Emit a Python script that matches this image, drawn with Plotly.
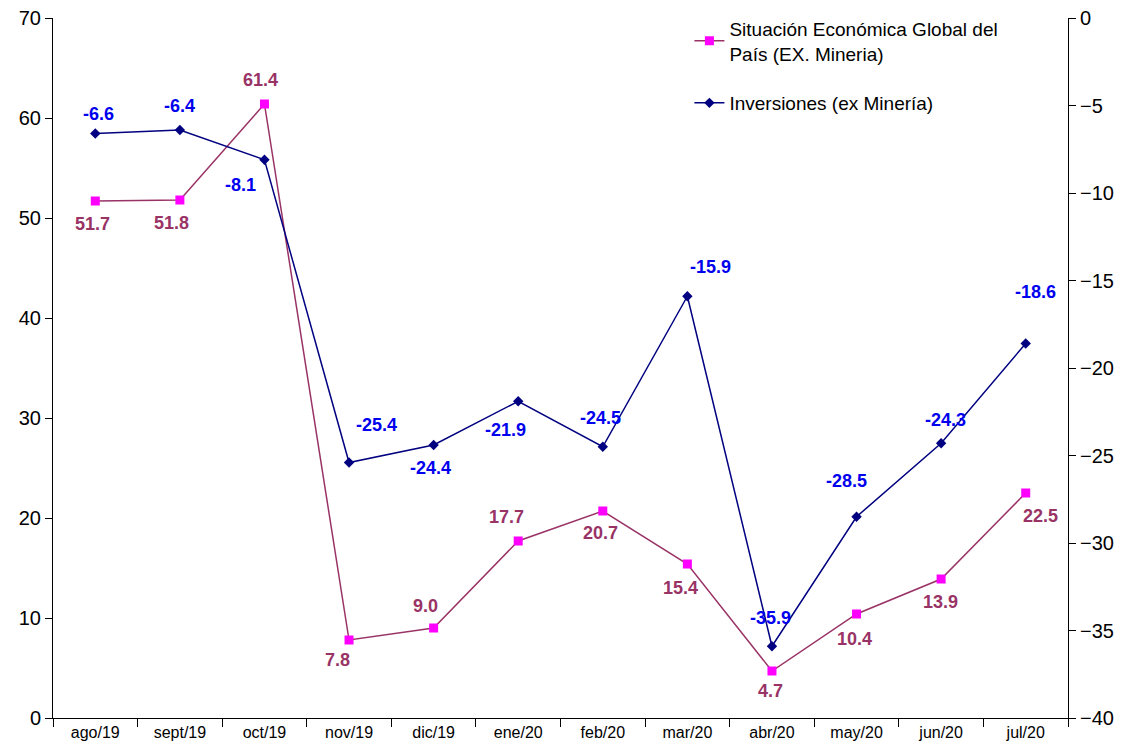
import plotly.graph_objects as go

categories = ["ago/19", "sept/19", "oct/19", "nov/19", "dic/19", "ene/20",
              "feb/20", "mar/20", "abr/20", "may/20", "jun/20", "jul/20"]
situacion = [51.7, 51.8, 61.4, 7.8, 9.0, 17.7, 20.7, 15.4, 4.7, 10.4, 13.9, 22.5]
inversiones = [-6.6, -6.4, -8.1, -25.4, -24.4, -21.9, -24.5, -15.9, -35.9, -28.5, -24.3, -18.6]

name1 = "Situación Económica Global del<br>País (EX. Mineria)"
name2 = "Inversiones (ex Minería)"

# label offsets in pixels (dx, dy with dy positive = up)
off1 = [(-3, -23), (-8, -23), (-4, 24), (-12, -20), (-8, 22), (-12, 24),
        (-2, -22), (-7, -24), (-1, -20), (-2, -25), (-1, -23), (15, -23)]
off2 = [(3, 20), (0, 24), (-24, -25), (27, 38), (-3, -23), (-13, -29),
        (-2, 29), (23, 29), (-1, 28), (-10, 36), (4, 23), (10, 52)]

PINK_LINE = "#993366"
PINK_MARK = "#FF00FF"
NAVY = "#000080"
BLUE_TXT = "#0000EE"
FONT = "Liberation Sans, Arial, sans-serif"

fig = go.Figure()
fig.add_trace(go.Scatter(
    x=categories, y=situacion, name=name1, mode="lines+markers",
    line=dict(color=PINK_LINE, width=1.5),
    marker=dict(symbol="square", size=9, color=PINK_MARK),
    legendgroup="a", yaxis="y"))
fig.add_trace(go.Scatter(
    x=categories, y=inversiones, name=name2, mode="lines+markers",
    line=dict(color=NAVY, width=1.5),
    marker=dict(symbol="diamond", size=8, color=NAVY),
    legendgroup="b", yaxis="y2"))

annotations = []
for c, v, (dx, dy) in zip(categories, situacion, off1):
    annotations.append(dict(x=c, y=v, xref="x", yref="y", text=f"{v:.1f}",
                            showarrow=False, xshift=dx, yshift=dy,
                            font=dict(family=FONT, size=18, color=PINK_LINE, weight="bold")))
for c, v, (dx, dy) in zip(categories, inversiones, off2):
    annotations.append(dict(x=c, y=v, xref="x", yref="y2", text=f"{v:.1f}",
                            showarrow=False, xshift=dx, yshift=dy,
                            font=dict(family=FONT, size=18, color=BLUE_TXT, weight="bold")))

fig.update_layout(
    width=1124, height=748,
    margin=dict(l=53, r=56, t=18, b=30, autoexpand=False),
    paper_bgcolor="white", plot_bgcolor="white",
    font=dict(family=FONT, color="black"),
    showlegend=True,
    legend=dict(x=0.627, y=1.012, xanchor="left", yanchor="top",
                bgcolor="rgba(0,0,0,0)", font=dict(size=19, color="black"),
                traceorder="grouped", tracegroupgap=22, itemwidth=30),
    xaxis=dict(type="category", range=[-0.5, len(categories) - 0.5],
               showline=True, linecolor="black", linewidth=1,
               ticks="outside", ticklen=8, tickcolor="black", tickson="boundaries",
               showgrid=False, zeroline=False, tickfont=dict(size=16), automargin=False),
    yaxis=dict(range=[0, 70], dtick=10, showline=True, linecolor="black", linewidth=1,
               ticks="outside", ticklen=7, tickcolor="black", showgrid=False,
               zeroline=False, tickfont=dict(size=20), automargin=False),
    yaxis2=dict(range=[-40, 0], dtick=5, overlaying="y", side="right", showline=True,
                linecolor="black", linewidth=1, ticks="outside", ticklen=7,
                tickcolor="black", showgrid=False, zeroline=False,
                tickfont=dict(size=20), automargin=False),
    annotations=annotations,
)

fig.write_html("out.html", config={"displayModeBar": False},
               post_script="document.body.style.margin='0';document.body.style.overflow='hidden';")
